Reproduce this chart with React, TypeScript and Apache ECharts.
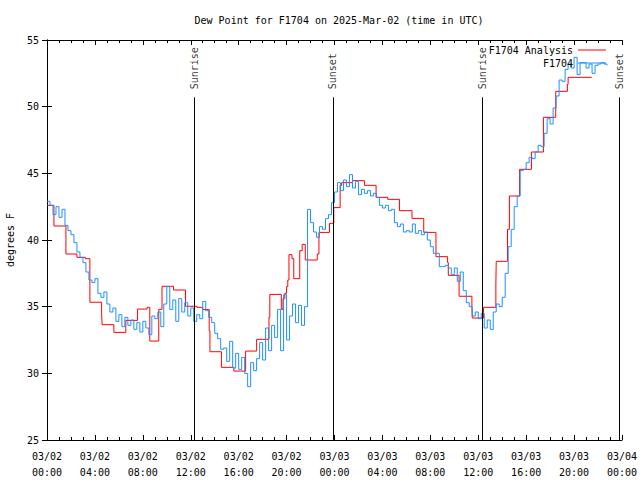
import React, { useEffect, useRef } from "react";
import * as echarts from "echarts";

// ---- data ----
const titleText = "Dew Point for F1704 on 2025-Mar-02 (time in UTC)";
const yAxisName = "degrees F";
const xTickLabels = [
  "03/02\n00:00", "03/02\n04:00", "03/02\n08:00", "03/02\n12:00", "03/02\n16:00", "03/02\n20:00",
  "03/03\n00:00", "03/03\n04:00", "03/03\n08:00", "03/03\n12:00", "03/03\n16:00", "03/03\n20:00",
  "03/04\n00:00",
];

// Analysis (hours since 03/02 00:00 UTC, value held until next time)
const analysisTimes = [0, 0.58, 1.58, 2.5, 3.2, 3.58, 4.56, 4.6, 5.58, 6.58, 7.56, 8.36, 8.58, 9.33, 9.6, 10.56, 11.56, 12.5, 13.0, 13.54, 13.6, 14.56, 15.6, 16.58, 17.5, 18.53, 18.6, 19.56, 19.7, 19.85, 20.0, 20.1, 20.2, 20.45, 20.6, 21.1, 21.3, 21.56, 22.56, 22.7, 23.58, 23.94, 24.47, 24.6, 25.5, 26.5, 27.47, 28.44, 29.42, 30.47, 31.45, 32.47, 33.44, 33.5, 34.4, 35.47, 35.5, 36.44, 37.47, 37.5, 38.44, 38.6, 39.45, 40.44, 41.44, 42.47, 43.44, 43.5, 45.47];
const analysisValues = [42.6, 41.05, 38.95, 38.7, 38.6, 35.33, 34.5, 33.65, 33.07, 33.97, 34.82, 34.95, 32.42, 34.8, 36.53, 36.25, 35.03, 34.95, 34.78, 33.2, 31.62, 30.45, 30.17, 31.67, 32.55, 34.2, 35.92, 34.8, 35.6, 36.0, 36.5, 37.0, 38.9, 38.6, 37.1, 39.2, 39.67, 38.5, 38.95, 40.57, 41.25, 42.43, 44.1, 44.3, 44.45, 44.1, 43.2, 43.05, 42.2, 41.62, 40.57, 38.75, 38.3, 37.35, 35.78, 34.95, 34.15, 34.95, 36.7, 38.4, 40.8, 43.3, 45.3, 46.6, 49.2, 51.15, 51.67, 52.2, 52.2];

// Observations every 15 minutes starting 03/02 00:00 UTC
const obsStartHour = 0;
const obsStepHours = 0.25;
const obsValues = [
  42.9, 42.6, 41.9, 42.5, 41.7, 42.3, 41.1, 40.7,
  40.4, 39.8, 39.1, 38.7, 38.3, 37.6, 37.0, 36.8,
  37.1, 36.0, 35.7, 36.1, 35.2, 34.6, 34.9, 33.9,
  34.4, 33.5, 34.2, 33.6, 34.0, 33.3, 33.8, 33.1,
  33.9, 33.4, 32.9, 34.3, 34.1, 34.6, 33.5, 35.2,
  36.5, 34.8, 35.5, 33.9, 35.6, 34.6, 35.3, 34.3,
  34.9, 33.9, 34.4, 34.1, 35.4, 34.7, 34.2, 33.8,
  33.0, 32.6, 31.8, 31.9, 30.9, 32.4, 30.4, 31.5,
  30.3, 31.2, 30.0, 29.0, 30.8, 30.2, 31.1, 32.3,
  31.0, 33.4, 31.7, 33.6, 32.7, 34.8, 31.7, 35.9,
  32.5, 34.3, 35.2, 33.8, 35.1, 33.6, 35.0, 42.3,
  41.3, 40.6, 40.2, 41.0, 40.8, 41.6, 41.9, 42.8,
  43.6, 44.3, 43.7, 44.5, 44.0, 44.9, 43.9, 44.4,
  43.4, 43.8, 43.5, 43.7, 43.3, 43.5, 43.2, 42.6,
  42.4, 42.6, 42.2, 42.3, 41.3, 41.0, 41.2, 40.6,
  40.7, 40.6, 41.2, 40.5, 40.7, 40.4, 40.6, 40.0,
  39.5, 39.0, 39.0, 38.0, 38.0, 38.1, 37.9, 37.4,
  37.9, 36.9, 37.6, 36.2, 35.3, 35.0, 34.3, 34.6,
  34.1, 34.5, 33.4, 34.0, 33.3, 34.6, 35.2, 35.0,
  35.7, 37.5, 39.5, 40.8, 42.5, 43.3, 45.2, 45.3,
  45.8, 46.2, 46.1, 46.6, 47.1, 47.0, 48.0, 49.1,
  48.7, 49.9, 50.8, 52.0, 51.9, 52.8, 53.2, 52.9,
  53.7, 52.4, 53.3, 53.3, 52.9, 53.2, 52.5, 53.1,
  53.2, 53.3, 53.2, 53.1,
];

const eventNames = ["Sunrise", "Sunset", "Sunrise", "Sunset"];
const eventTimes = [12.33, 23.86, 36.36, 47.8];

const seriesNames = ["F1704 Analysis", "F1704"];

const FONT = "DejaVu Sans Mono";

export default function App() {
  const ref = useRef<HTMLDivElement>(null);
  useEffect(() => {
    if (!ref.current) return;
    const chart = echarts.init(ref.current, undefined, { renderer: "svg" });
    const analysisData = analysisTimes.map((t, i) => [t, analysisValues[i]]);
    const obsData = obsValues.map((v, i) => [obsStartHour + i * obsStepHours, v]);
    const eventLabelY = 51.3;
    const eventLineTop = 50.7;

    const xCommon = {
      type: "value" as const,
      min: 0,
      max: 48,
      interval: 4,
      axisLine: { show: true, lineStyle: { color: "#000", width: 1 } },
      axisTick: { show: true, inside: true, length: 5, lineStyle: { color: "#000" } },
      minorTick: { show: true, splitNumber: 4, length: 3, lineStyle: { color: "#000" } },
      splitLine: { show: false },
    };
    const yCommon = {
      type: "value" as const,
      min: 25,
      max: 55,
      interval: 5,
      axisLine: { show: true, lineStyle: { color: "#000", width: 1 } },
      axisTick: { show: true, inside: true, length: 5, lineStyle: { color: "#000" } },
      splitLine: { show: false },
    };

    chart.setOption({
      animation: false,
      backgroundColor: "#fff",
      title: {
        text: titleText,
        left: 334,
        textAlign: "center",
        top: 10,
        textStyle: { fontFamily: FONT, fontSize: 10, fontWeight: "normal", color: "#000" },
      },
      grid: { left: 47, right: 18, top: 40, bottom: 40, containLabel: false, outerBoundsMode: "none" },
      legend: {
        data: seriesNames,
        orient: "vertical",
        right: 29,
        top: 40,
        align: "right",
        itemWidth: 28,
        itemHeight: 1,
        itemGap: 3,
        icon: "rect",
        textStyle: { fontFamily: FONT, fontSize: 10, color: "#000" },
      },
      xAxis: [
        {
          ...xCommon,
          position: "bottom",
          axisLabel: {
            show: true,
            fontFamily: FONT,
            fontSize: 10,
            color: "#000",
            lineHeight: 16,
            margin: 8,
            formatter: (v: number) => xTickLabels[Math.round(v / 4)] ?? "",
          },
        },
        { ...xCommon, position: "top", axisLabel: { show: false } },
      ],
      yAxis: [
        {
          ...yCommon,
          position: "left",
          name: yAxisName,
          nameLocation: "middle",
          nameGap: 32,
          nameTextStyle: { fontFamily: FONT, fontSize: 10, color: "#000" },
          axisLabel: { show: true, fontFamily: FONT, fontSize: 10, color: "#000", margin: 8 },
        },
        { ...yCommon, position: "right", axisLabel: { show: false } },
      ],
      series: [
        {
          name: seriesNames[0],
          type: "line",
          step: "end",
          data: analysisData,
          showSymbol: false,
          symbol: "none",
          lineStyle: { color: "#ff0000", width: 1 },
          itemStyle: { color: "#ff0000" },
          z: 2,
        },
        {
          name: seriesNames[1],
          type: "line",
          step: "end",
          data: obsData,
          showSymbol: false,
          symbol: "none",
          lineStyle: { color: "#1e90ff", width: 1 },
          itemStyle: { color: "#1e90ff" },
          z: 3,
        },
        {
          name: "events",
          type: "scatter",
          data: eventTimes.map((t, i) => ({ value: [t, eventLabelY], name: eventNames[i] })),
          symbolSize: 0,
          silent: true,
          z: 4,
          label: {
            show: true,
            position: "inside",
            rotate: 90,
            align: "left",
            verticalAlign: "middle",
            formatter: (p: any) => p.name,
            fontFamily: FONT,
            fontSize: 10,
            color: "#000",
          },
          markLine: {
            silent: true,
            symbol: ["none", "none"],
            label: { show: false },
            lineStyle: { color: "#000", width: 1, type: "solid" },
            data: eventTimes.map((t) => [
              { coord: [t, 25] },
              { coord: [t, eventLineTop] },
            ]),
          },
        },
      ],
    });
    return () => chart.dispose();
  }, []);
  return <div ref={ref} style={{ width: 640, height: 480, position: "absolute", left: 0, top: 0 }} />;
}
